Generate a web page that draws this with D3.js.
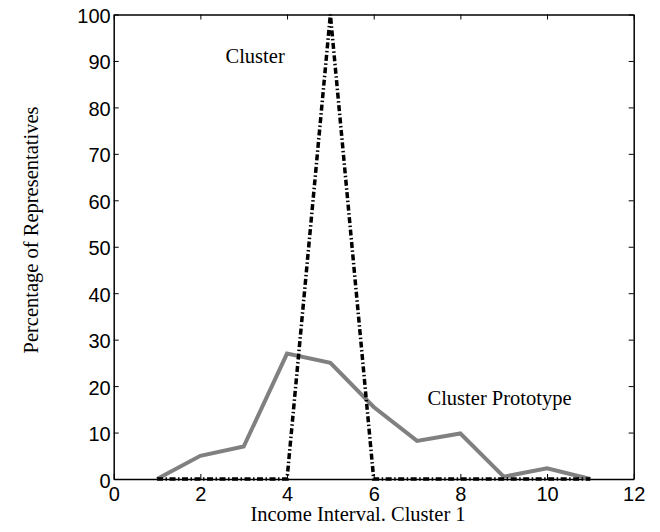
<!DOCTYPE html>
<html>
<head>
<meta charset="utf-8">
<script src="https://cdn.jsdelivr.net/npm/d3@7"></script>
<style>
  html, body { margin: 0; padding: 0; background: #fff; }
  svg { display: block; }
</style>
</head>
<body>
<svg id="chart" width="660" height="532"></svg>
<script>
// ---- data ----
const intervals = [1, 2, 3, 4, 5, 6, 7, 8, 9, 10, 11];
const clusterValues = [0, 0, 0, 0, 100, 0, 0, 0, 0, 0, 0];
const prototypeValues = [0, 5, 7, 27, 25, 15.5, 8.2, 9.8, 0.5, 2.3, 0];
const xTicks = [0, 2, 4, 6, 8, 10, 12];
const yTicks = [0, 10, 20, 30, 40, 50, 60, 70, 80, 90, 100];
const xLabel = "Income Interval. Cluster 1";
const yLabel = "Percentage of Representatives";
const annoCluster = "Cluster";
const annoPrototype = "Cluster Prototype";

// ---- layout ----
const W = 660, H = 532;
const L = 113.7, R = 633.7, T = 14.5, B = 479;
const svg = d3.select("#chart");

const x = d3.scaleLinear().domain([0, 12]).range([L, R]);
const y = d3.scaleLinear().domain([0, 100]).range([B, T]);

const serif = "'Liberation Serif', 'Times New Roman', serif";
const sans = "'Liberation Sans', Arial, sans-serif";
const tickLen = 5;

// axes with inward ticks
const axBottom = svg.append("g").attr("transform", `translate(0,${B})`)
  .call(d3.axisBottom(x).tickValues(xTicks).tickSizeInner(-tickLen).tickSizeOuter(0).tickPadding(8));
const axTop = svg.append("g").attr("transform", `translate(0,${T})`)
  .call(d3.axisTop(x).tickValues(xTicks).tickSizeInner(-tickLen).tickSizeOuter(0).tickFormat(""));
const axLeft = svg.append("g").attr("transform", `translate(${L},0)`)
  .call(d3.axisLeft(y).tickValues(yTicks).tickSizeInner(-tickLen).tickSizeOuter(0).tickPadding(3));
const axRight = svg.append("g").attr("transform", `translate(${R},0)`)
  .call(d3.axisRight(y).tickValues(yTicks).tickSizeInner(-tickLen).tickSizeOuter(0).tickFormat(""));

[axBottom, axTop, axLeft, axRight].forEach(g => {
  g.select(".domain").attr("stroke", "#000").attr("stroke-width", 1.5);
  g.selectAll(".tick line").attr("stroke", "#000").attr("stroke-width", 1);
  g.selectAll(".tick text").attr("font-family", sans).attr("font-size", 20).attr("fill", "#000");
});
axBottom.selectAll(".tick text").attr("dy", "0.71em");
axLeft.selectAll(".tick text").attr("dy", "0.4em");

// lines
const line = d3.line().x((d) => x(d[0])).y((d) => y(d[1]));

svg.append("path")
  .datum(intervals.map((v, i) => [v, prototypeValues[i]]))
  .attr("d", line)
  .attr("fill", "none")
  .attr("stroke", "#808080")
  .attr("stroke-width", 4)
  .attr("stroke-linejoin", "miter");

svg.append("path")
  .datum(intervals.map((v, i) => [v, clusterValues[i]]))
  .attr("d", line)
  .attr("fill", "none")
  .attr("stroke", "#000")
  .attr("stroke-width", 3.5)
  .attr("stroke-dasharray", "6,2.5,1.5,2.5");

// annotations
svg.append("text").attr("x", 225.5).attr("y", 63)
  .attr("font-family", serif).attr("font-size", 20.5).text(annoCluster);
svg.append("text").attr("x", 427.5).attr("y", 405)
  .attr("font-family", serif).attr("font-size", 20.5).text(annoPrototype);

// axis labels
svg.append("text").attr("x", 358).attr("y", 521).attr("text-anchor", "middle")
  .attr("font-family", serif).attr("font-size", 20.5).text(xLabel);
svg.append("text").attr("transform", "translate(38,230) rotate(-90)")
  .attr("text-anchor", "middle")
  .attr("font-family", serif).attr("font-size", 20.5).text(yLabel);
</script>
</body>
</html>
